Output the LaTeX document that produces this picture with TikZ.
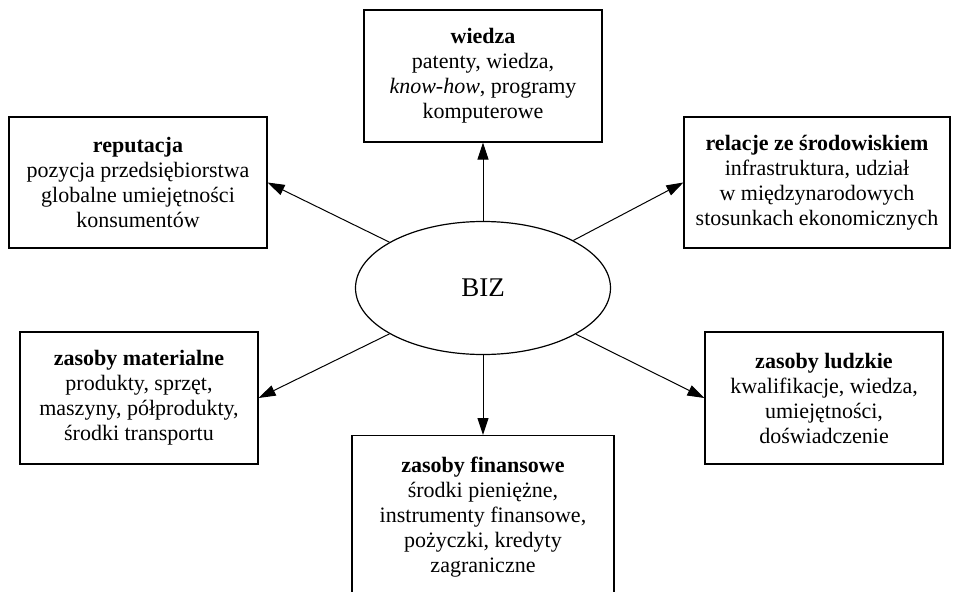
\documentclass[tikz,border=0pt]{standalone}
\usepackage{fontspec}
\setmainfont{Liberation Serif}
\usetikzlibrary{shapes.geometric,arrows.meta}

\tikzset{
  res/.style={draw,line width=0.6pt,align=center,inner sep=0pt,
    font=\fontsize{11}{12.5}\selectfont},
  link/.style={-{Triangle[length=8.5pt,width=5.5pt]},line width=0.5pt}
}

\begin{document}
\begin{tikzpicture}[x=0.5pt,y=0.5pt]
\useasboundingbox (0,0) rectangle (959,591);

% Center
  \node[ellipse,draw,line width=0.6pt,minimum width=127.5pt,minimum height=66.5pt,
        inner sep=0pt,font=\fontsize{13.5}{16}\selectfont] (biz) at (483,303) {BIZ};

% Resources
  \node[res,minimum width=119pt,minimum height=66pt] (wiedza) at (483,515)
    {\textbf{wiedza}\\patenty, wiedza,\\\textit{know-how}, programy\\komputerowe};
  \node[res,minimum width=129pt,minimum height=65.5pt] (reputacja) at (138,408.5)
    {\textbf{reputacja}\\pozycja przedsiębiorstwa\\globalne umiejętności\\konsumentów};
  \node[res,minimum width=133pt,minimum height=65.5pt] (relacje) at (817,408.5)
    {\textbf{relacje ze środowiskiem}\\infrastruktura, udział\\w międzynarodowych\\stosunkach ekonomicznych};
  \node[res,minimum width=119pt,minimum height=66pt] (materialne) at (139,193)
    {\textbf{zasoby materialne}\\produkty, sprzęt,\\maszyny, półprodukty,\\środki transportu};
  \node[res,minimum width=119pt,minimum height=66pt] (ludzkie) at (824,193)
    {\textbf{zasoby ludzkie}\\kwalifikacje, wiedza,\\umiejętności,\\doświadczenie};
  \node[res,minimum width=131pt,minimum height=82pt,anchor=north] (finansowe) at (483,156)
    {\textbf{zasoby finansowe}\\środki pieniężne,\\instrumenty finansowe,\\pożyczki, kredyty\\zagraniczne};

% Arrows
  \draw[link] (biz.north) -- (wiedza.south);
  \draw[link] (biz.south) -- (finansowe.north);
  \draw[link] (biz) -- (reputacja.east);
  \draw[link] (biz) -- (relacje.west);
  \draw[link] (biz) -- (materialne.east);
  \draw[link] (biz) -- (ludzkie.west);

\end{tikzpicture}
\end{document}
